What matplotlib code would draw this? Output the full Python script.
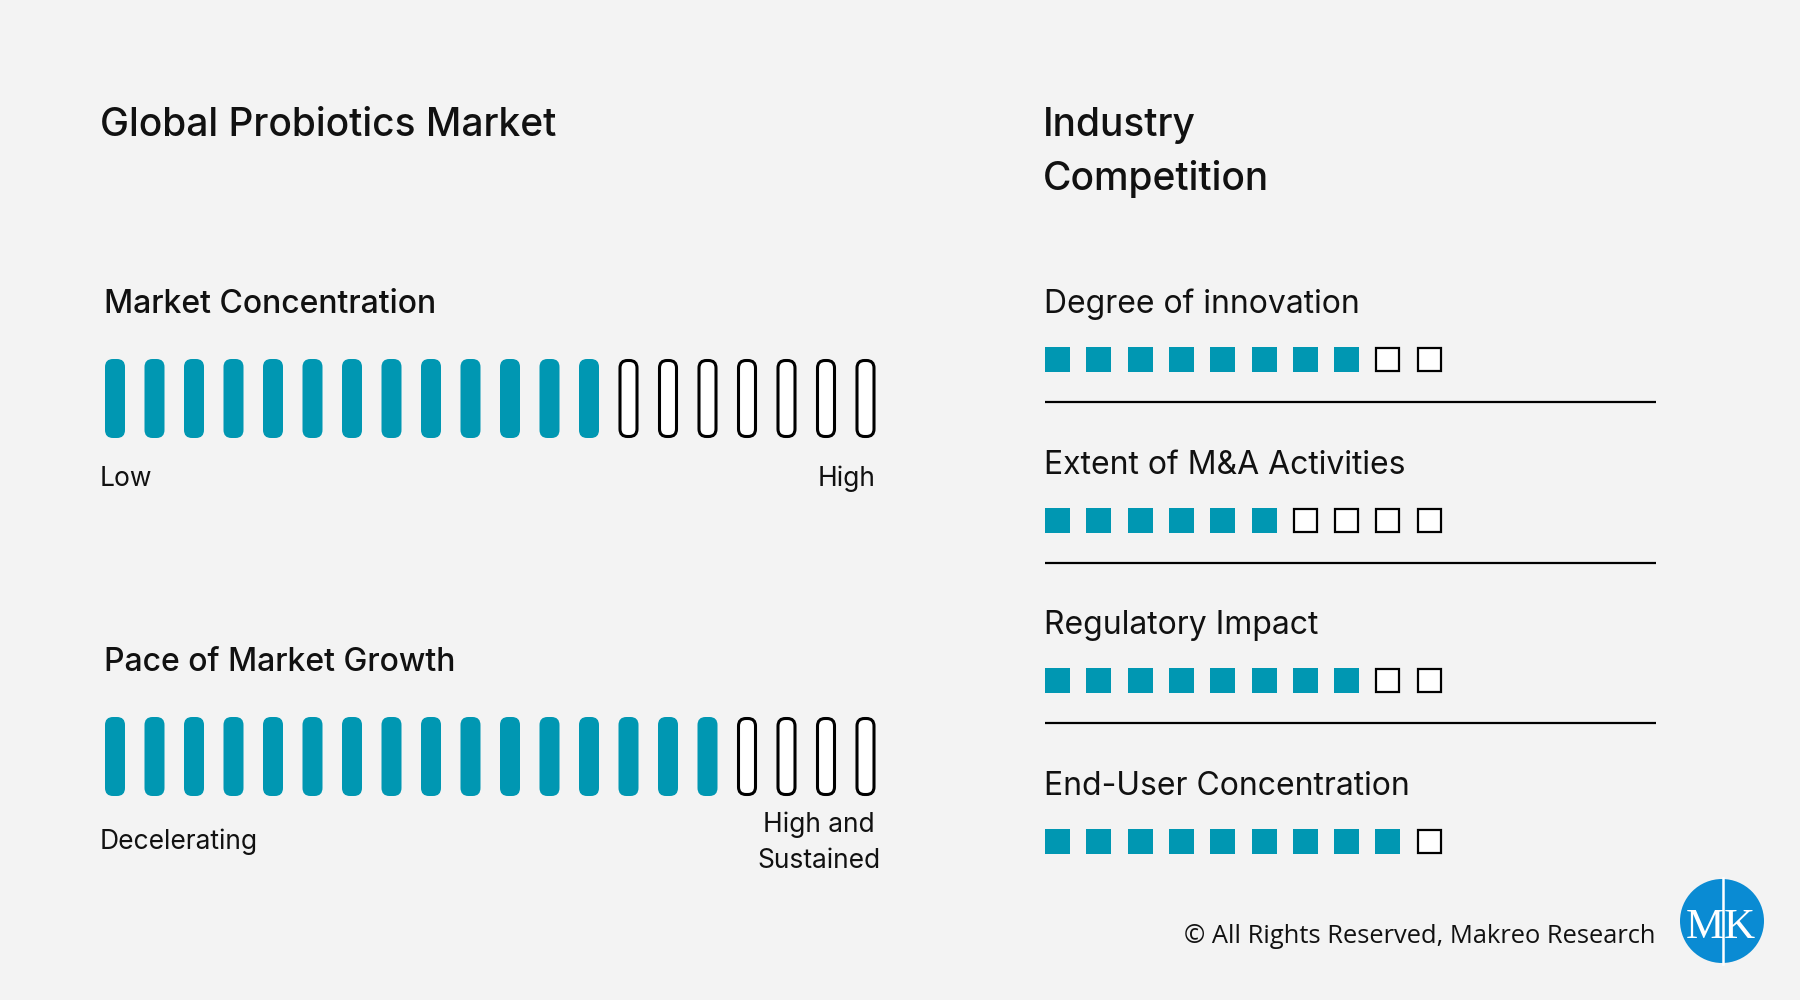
import matplotlib
matplotlib.use('Agg')
import matplotlib.pyplot as plt
from matplotlib.patches import FancyBboxPatch, Rectangle, Circle

# data
page_title = 'Global Probiotics Market'
side_title = 'Industry\nCompetition'

gauge_names = ['Market Concentration', 'Pace of Market Growth']
gauge_filled = [13, 16]
gauge_total = [20, 20]
gauge_low = ['Low', 'Decelerating']
gauge_high = ['High', 'High and\nSustained']

comp_names = ['Degree of innovation', 'Extent of M&A Activities',
              'Regulatory Impact', 'End-User Concentration']
comp_filled = [8, 6, 8, 9]
comp_total = [10, 10, 10, 10]

footer = '\u00a9 All Rights Reserved, Makreo Research'

TEAL = '#0097b2'
BG = '#f3f3f3'
HEAD = 'Inter'
INK = '#111111'

fig = plt.figure(figsize=(18, 10), dpi=100)
fig.patch.set_facecolor(BG)
ax = fig.add_axes([0, 0, 1, 1])
ax.set_xlim(0, 1800)
ax.set_ylim(1000, 0)
ax.axis('off')

ax.text(100, 136, page_title, fontsize=28, fontfamily=HEAD, fontweight='medium',
        va='baseline', ha='left', color=INK)
for n, line in enumerate(side_title.split('\n')):
    ax.text(1043, 136 + n * 54, line, fontsize=28, fontfamily=HEAD,
            fontweight='medium', va='baseline', ha='left', color=INK)

# pill gauges
gy = [313, 671]
for i, name in enumerate(gauge_names):
    base = gy[i]
    ax.text(104, base, name, fontsize=23, fontfamily=HEAD, fontweight='medium',
            va='baseline', ha='left', color=INK)
    top = base + 46
    for k in range(gauge_total[i]):
        x0 = 105 + k * 39.5
        if k < gauge_filled[i]:
            p = FancyBboxPatch((x0 + 8, top + 8), 20 - 16, 79 - 16,
                               boxstyle='round,pad=8', fc=TEAL, ec='none')
        else:
            p = FancyBboxPatch((x0 + 9, top + 9), 20 - 18, 79 - 18,
                               boxstyle='round,pad=7.5', fc='white', ec='black', lw=2.2)
        ax.add_patch(p)
    ax.text(100, base + 173 if i == 0 else base + 178, gauge_low[i], fontsize=19,
            fontfamily=HEAD, va='baseline', ha='left', color=INK)
    if i == 0:
        ax.text(875, base + 173, gauge_high[i], fontsize=19, fontfamily=HEAD,
                va='baseline', ha='right', color=INK)
    else:
        lines = gauge_high[i].split('\n')
        ax.text(819, base + 161, lines[0], fontsize=19, fontfamily=HEAD,
                va='baseline', ha='center', color=INK)
        ax.text(819, base + 197, lines[1], fontsize=19, fontfamily=HEAD,
                va='baseline', ha='center', color=INK)

# competition squares
for j, name in enumerate(comp_names):
    base = 313 + j * 160.7
    ax.text(1044, base, name, fontsize=23, fontfamily=HEAD,
            va='baseline', ha='left', color=INK)
    sq_top = base + 34
    for k in range(comp_total[j]):
        x0 = 1045 + k * 41.3
        if k < comp_filled[j]:
            ax.add_patch(Rectangle((x0, sq_top), 25, 25, fc=TEAL, ec='none'))
        else:
            ax.add_patch(Rectangle((x0 + 1, sq_top + 1), 23, 23, fc='white',
                                   ec='black', lw=1.6))
    if j < len(comp_names) - 1:
        ax.plot([1045, 1656], [base + 89, base + 89], color='black', lw=1.6,
                solid_capstyle='butt')

# footer
ax.text(1656, 943, footer, fontsize=18.4, fontfamily='Open Sans',
        va='baseline', ha='right', color=INK)

# logo
ax.add_patch(Circle((1722, 921), 42, fc='#0a8bd3', ec='none'))
ax.text(1705, 938, 'M', fontsize=31, fontfamily='Liberation Serif', color='white',
        va='baseline', ha='center')
ax.text(1739, 938, 'K', fontsize=31, fontfamily='Liberation Serif', color='white',
        va='baseline', ha='center')
ax.plot([1722.5, 1722.5], [878, 964], color='white', lw=1.8)

fig.savefig('out.png', dpi=100, facecolor=BG)
